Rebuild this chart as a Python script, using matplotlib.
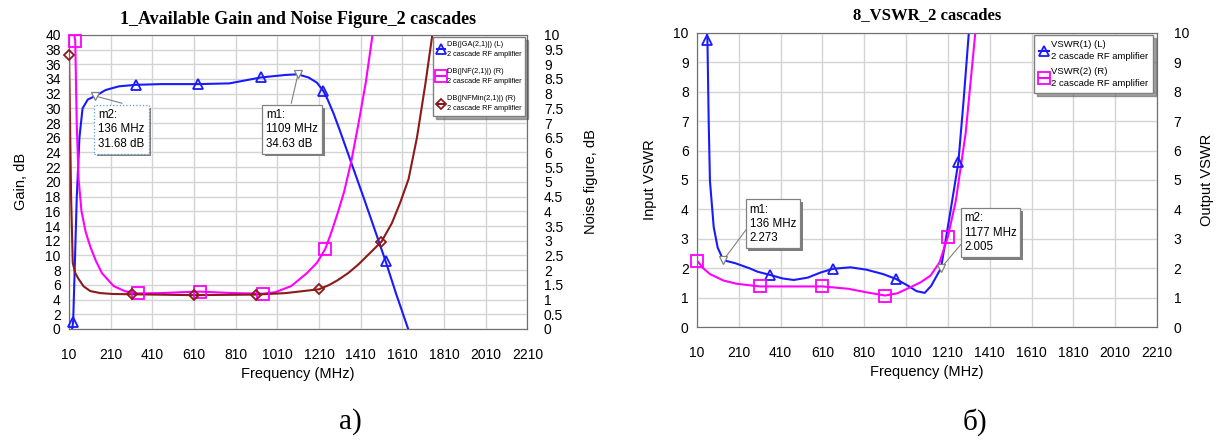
import matplotlib
matplotlib.use('Agg')
import matplotlib.pyplot as plt
import matplotlib.patheffects as pe
import numpy as np

BLUE = '#1a1aff'
PINK = '#ff00ff'
MAROON = '#8b1a1a'
GRIDC = '#d4d4d4'
SANS = 'Liberation Sans'
SERIF = 'Liberation Serif'

# ---- chart a): gain and noise figure ----
ga_f = [10, 30, 47, 60, 75, 100, 136, 186, 250, 330, 450, 630, 780, 930, 1050, 1109,
        1160, 1200, 1230, 1250, 1280, 1310, 1340, 1370, 1400, 1430, 1480, 1530, 1580,
        1638, 1700]
ga_db = [-3, 1.0, 17.7, 26, 30, 31.2, 31.68, 32.5, 33.0, 33.2, 33.3, 33.3, 33.4, 34.2,
         34.55, 34.63, 34.2, 33.5, 32.4, 31.3, 29.3, 27.0, 24.6, 22.2, 19.8, 17.4, 13.3,
         9.2, 4.8, 0, -5]
ga_mk = [30, 330, 630, 930, 1230, 1530]

nf_f = [10, 40, 47, 56, 70, 90, 112, 140, 168, 224, 280, 340, 450, 550, 640, 800, 940,
        1000, 1077, 1152, 1200, 1240, 1270, 1300, 1330, 1365, 1400, 1435, 1467, 1490]
nf_db = [11, 9.8, 7, 5.1, 4.0, 3.3, 2.8, 2.3, 1.9, 1.46, 1.28, 1.21, 1.22, 1.25, 1.27,
         1.22, 1.2, 1.25, 1.46, 1.9, 2.25, 2.72, 3.3, 3.95, 4.65, 5.7, 7.0, 8.4, 10, 11.3]
nf_mk = [40, 340, 640, 940, 1240]

nfmin_f = [10, 15, 20, 28, 40, 56, 80, 112, 160, 220, 310, 610, 910, 1050, 1210, 1260,
           1300, 1350, 1400, 1450, 1510, 1560, 1600, 1640, 1680, 1720, 1750, 1770]
nfmin_db = [9.3, 7, 4.5, 2.25, 1.9, 1.7, 1.45, 1.29, 1.22, 1.19, 1.18, 1.15, 1.17, 1.22,
            1.35, 1.5, 1.66, 1.9, 2.2, 2.55, 2.97, 3.6, 4.3, 5.1, 6.5, 8.3, 9.8, 10.8]
nfmin_mk = [10, 310, 610, 910, 1210, 1510]

# ---- chart b): VSWR ----
vs1_f = [50, 60, 66, 72, 90, 109, 136, 193, 260, 300, 360, 420, 473, 540, 600, 660, 744,
         820, 900, 960, 1020, 1060, 1099, 1130, 1177, 1220, 1260, 1285, 1310, 1320]
vs1 = [11, 9.75, 7, 4.97, 3.4, 2.7, 2.273, 2.17, 2.0, 1.88, 1.77, 1.65, 1.6, 1.68, 1.85,
       1.98, 2.03, 1.95, 1.8, 1.64, 1.4, 1.22, 1.16, 1.4, 2.005, 3.84, 5.6, 7.7, 10, 11]
vs1_mk = [60, 360, 660, 960, 1260]

vs2_f = [10, 40, 72, 137, 200, 310, 450, 610, 734, 820, 910, 970, 1033, 1080, 1127,
         1170, 1210, 1248, 1295, 1341, 1350]
vs2 = [2.26, 2.0, 1.8, 1.58, 1.47, 1.38, 1.38, 1.38, 1.3, 1.18, 1.07, 1.15, 1.36, 1.52,
       1.75, 2.2, 3.07, 4.3, 6.6, 10, 10.8]
vs2_mk = [10, 310, 610, 910, 1210]

xticks = np.arange(10, 2211, 200)


def draw_series(ax, f, v, mk, color, marker, ms, label):
    f = np.array(f)
    v = np.array(v)
    ax.plot(f, v, color=color, lw=1.5)
    sel = np.isin(f, mk)
    ax.plot(f[sel], v[sel], ls='none', marker=marker, ms=ms, mfc='none', mec=color,
            mew=1.3, clip_on=False, zorder=5)
    # legend proxy
    return ax.plot([], [], color=color, lw=1.5, marker=marker, ms=ms, mfc='none',
                   mec=color, mew=1.3, label=label)[0]


def style_axes(ax, axr, ylim, yticks, yticks_r, ylabel, ylabel_r, pad_l, pad_r):
    ax.set_xlim(10, 2210)
    ax.set_xticks(xticks)
    ax.set_ylim(*ylim)
    ax.set_yticks(yticks)
    axr.set_yticks(yticks_r)
    ax.grid(True, color=GRIDC, lw=1.0)
    ax.set_axisbelow(True)
    for a in (ax, axr):
        a.tick_params(length=0, labelsize=10)
        for lab in a.get_xticklabels() + a.get_yticklabels():
            lab.set_fontfamily(SANS)
        for s in a.spines.values():
            s.set_color('#707070')
    ax.tick_params(axis='x', pad=14)
    ax.tick_params(axis='y', pad=6)
    axr.tick_params(axis='y', pad=12)
    ax.set_xlabel('Frequency (MHz)', family=SANS, fontsize=10.5, labelpad=3)
    ax.set_ylabel(ylabel, family=SANS, fontsize=10.5, labelpad=pad_l)
    axr.set_ylabel(ylabel_r, family=SANS, fontsize=10.5, labelpad=pad_r)


def marker_box(ax, x, y, text, box_xy, line_end, dotted=False):
    ax.plot([x, line_end[0]], [y, line_end[1]], color='#808080', lw=0.8, zorder=6)
    ax.plot([x], [y], marker='v', ms=6, mfc='white', mec='#808080', mew=0.9, zorder=7)
    t = ax.text(box_xy[0], box_xy[1], text, ha='left', va='top', family=SANS,
                fontsize=8.3, linespacing=1.25, zorder=8,
                bbox=dict(boxstyle='square,pad=0.35', fc='white',
                          ec='#5b9bd5' if dotted else '#808080',
                          ls=':' if dotted else '-', lw=0.9))
    t.get_bbox_patch().set_path_effects([pe.withSimplePatchShadow(offset=(2, -2),
                                         shadow_rgbFace='#707070', alpha=0.9)])


def make_legend(ax, handles, size, anchor, lsp, tsp):
    leg = ax.legend(handles=handles, loc='upper right', bbox_to_anchor=anchor,
                    prop={'family': SANS, 'size': size}, handlelength=1.1,
                    handletextpad=0.25, labelspacing=lsp, borderpad=0.5,
                    borderaxespad=0.15, fancybox=False, shadow=True,
                    framealpha=1, edgecolor='#808080')
    for t in leg.get_texts():
        t.set_linespacing(tsp)
    leg.set_zorder(20)
    return leg


fig = plt.figure(figsize=(12.17, 4.41), dpi=100)

# chart a
ax1 = fig.add_axes([0.0567, 0.254, 0.3766, 0.667])
ax1r = ax1.twinx()
ax1r.set_ylim(0, 10)
ax1.set_zorder(ax1r.get_zorder() + 1)
ax1.patch.set_visible(False)
style_axes(ax1, ax1r, (0, 40), np.arange(0, 41, 2), np.arange(0, 10.01, 0.5),
           'Gain, dB', 'Noise figure, dB', 12, 15)
ax1r.set_yticklabels([f'{v:g}' for v in np.arange(0, 10.01, 0.5)], family=SANS)
# noise curves on right scale drawn in the gain axis (x4)
h1 = draw_series(ax1, ga_f, ga_db, ga_mk, BLUE, '^', 7, 'DB(|GA(2,1)|) (L)\n2 cascade RF amplifier')
h2 = draw_series(ax1, nf_f, np.array(nf_db) * 4, nf_mk, PINK, 's', 8, 'DB(|NF(2,1)|) (R)\n2 cascade RF amplifier')
h3 = draw_series(ax1, nfmin_f, np.array(nfmin_db) * 4, nfmin_mk, MAROON, 'D', 5, 'DB(|NFMin(2,1)|) (R)\n2 cascade RF amplifier')
ax1.set_title('1_Available Gain and Noise Figure_2 cascades', family=SERIF,
              fontweight='bold', fontsize=13, pad=8)
make_legend(ax1, [h1, h2, h3], 5.3, (0.997, 0.997), 1.4, 1.6)
marker_box(ax1, 136, 31.68, 'm2:\n136 MHz\n31.68 dB', (150, 29.9), (264, 30.7), dotted=True)
marker_box(ax1, 1109, 34.63, 'm1:\n1109 MHz\n34.63 dB', (955, 29.9), (1077, 30.7))

# chart b
ax2 = fig.add_axes([0.5727, 0.2585, 0.378, 0.6667])
ax2r = ax2.twinx()
ax2r.set_ylim(0, 10)
ax2.set_zorder(ax2r.get_zorder() + 1)
ax2.patch.set_visible(False)
style_axes(ax2, ax2r, (0, 10), np.arange(0, 11, 1), np.arange(0, 11, 1),
           'Input VSWR', 'Output VSWR', 12, 8)
ax2r.set_yticklabels([str(v) for v in range(11)], family=SANS)
h4 = draw_series(ax2, vs1_f, vs1, vs1_mk, BLUE, '^', 7, 'VSWR(1) (L)\n2 cascade RF amplifier')
h5 = draw_series(ax2, vs2_f, vs2, vs2_mk, PINK, 's', 8, 'VSWR(2) (R)\n2 cascade RF amplifier')
ax2.set_title('8_VSWR_2 cascades', family=SERIF, fontweight='bold', fontsize=12, pad=10)
make_legend(ax2, [h4, h5], 6.8, (0.995, 0.997), 0.7, 1.4)
marker_box(ax2, 136, 2.273, 'm1:\n136 MHz\n2.273', (262, 4.2), (244, 3.3))
marker_box(ax2, 1177, 2.005, 'm2:\n1177 MHz\n2.005', (1290, 3.9), (1271, 2.8))

fig.text(350 / 1217, 1 - 422 / 441, 'а)', family=SERIF, fontsize=21, ha='center', va='center')
fig.text(975 / 1217, 1 - 422 / 441, 'б)', family=SERIF, fontsize=21, ha='center', va='center')

fig.savefig('out.png', dpi=100)
